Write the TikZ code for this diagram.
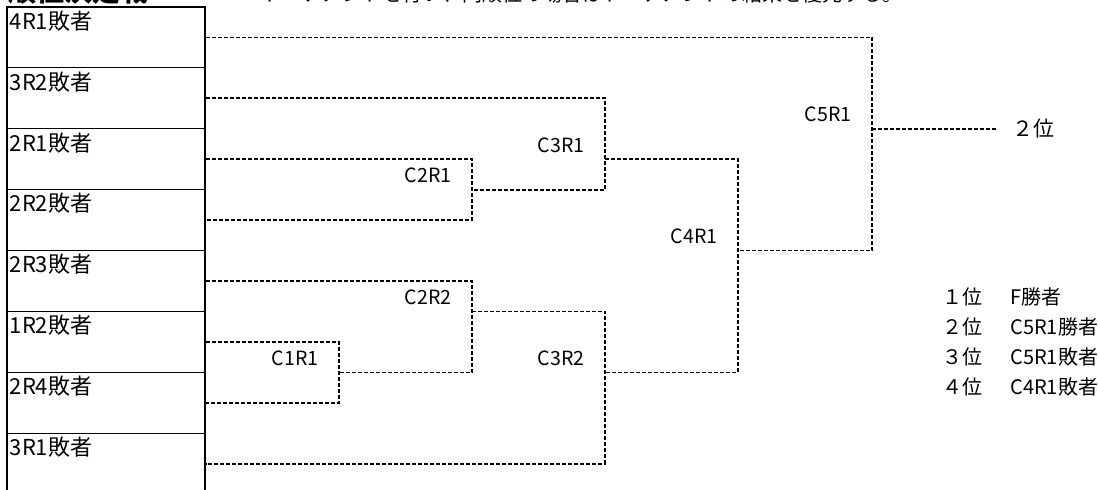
\documentclass[tikz,border=0pt]{standalone}
\usepackage{fontspec}
\setmainfont{Noto Sans CJK JP}
\tikzset{
  loserbox/.style={draw, line width=0.6pt, minimum width=99pt, minimum height=30.45pt, inner sep=0pt},
  boxtext/.style={anchor=north west, inner sep=0pt, xshift=1.5pt, yshift=-2pt, font=\fontsize{11}{13}\selectfont},
  bracket/.style={line width=0.85pt, dash pattern=on 2pt off 1pt},
  matchtext/.style={anchor=base east, inner sep=0pt, font=\fontsize{9.8}{11}\selectfont},
  ranktext/.style={anchor=base west, inner sep=0pt, font=\fontsize{10}{12}\selectfont}
}
\begin{document}
\begin{tikzpicture}[x=0.5pt, y=-0.5pt]
                    \useasboundingbox (0,0) rectangle (1098,490);
                    \clip (0,0) rectangle (1098,490);
                    % heading, cut off at the top
                    \node[anchor=base west, inner sep=0pt, font=\fontsize{14}{16}\selectfont\bfseries] (title) at (8,1.5) {順位決定戦};
                    \node[anchor=base west, inner sep=0pt, font=\fontsize{10}{12}\selectfont] (note) at (262,1.5) {トーナメントを行い、同順位の場合はトーナメントの結果を優先する。};
                    % losers
                    \node[loserbox, label={[boxtext]north west:4R1敗者}] (b1) at (106,37.45) {};
                    \node[loserbox, label={[boxtext]north west:3R2敗者}] (b2) at (106,98.35) {};
                    \node[loserbox, label={[boxtext]north west:2R1敗者}] (b3) at (106,159.25) {};
                    \node[loserbox, label={[boxtext]north west:2R2敗者}] (b4) at (106,220.15) {};
                    \node[loserbox, label={[boxtext]north west:2R3敗者}] (b5) at (106,281.05) {};
                    \node[loserbox, label={[boxtext]north west:1R2敗者}] (b6) at (106,341.95) {};
                    \node[loserbox, label={[boxtext]north west:2R4敗者}] (b7) at (106,402.85) {};
                    \node[loserbox, label={[boxtext]north west:3R1敗者}] (b8) at (106,463.75) {};
                    % match points
                    \coordinate (c2r1) at (472,189.7);
                    \coordinate (c3r1) at (605,159.25);
                    \coordinate (c1r1) at (339,372.4);
                    \coordinate (c2r2) at (472,311.5);
                    \coordinate (c3r2) at (605,372.4);
                    \coordinate (c4r1) at (738,250.6);
                    \coordinate (c5r1) at (872,128.8);
                    \draw[bracket] (b3.east) -| (c2r1) |- (b4.east);
                    \draw[bracket] (b2.east) -| (c3r1) |- (c2r1);
                    \draw[bracket] (b6.east) -| (c1r1) |- (b7.east);
                    \draw[bracket] (b5.east) -| (c2r2) |- (c1r1);
                    \draw[bracket] (c2r2) -| (c3r2) |- (b8.east);
                    \draw[bracket] (c3r1) -| (c4r1) |- (c3r2);
                    \draw[bracket] (b1.east) -| (c5r1) |- (c4r1);
                    \node[anchor=west, inner ysep=0pt, inner xsep=7pt, font=\fontsize{10.5}{12}\selectfont] (second) at (998,128.8) {２位};
                    \draw[bracket] (c5r1) -- (second.west);
                    \node[matchtext] (l-c2r1) at ([xshift=-10pt,yshift=3.5pt]c2r1) {C2R1};
                    \node[matchtext] (l-c3r1) at ([xshift=-10pt,yshift=3.5pt]c3r1) {C3R1};
                    \node[matchtext] (l-c1r1) at ([xshift=-10pt,yshift=3.5pt]c1r1) {C1R1};
                    \node[matchtext] (l-c2r2) at ([xshift=-10pt,yshift=3.5pt]c2r2) {C2R2};
                    \node[matchtext] (l-c3r2) at ([xshift=-10pt,yshift=3.5pt]c3r2) {C3R2};
                    \node[matchtext] (l-c4r1) at ([xshift=-10pt,yshift=3.5pt]c4r1) {C4R1};
                    \node[matchtext] (l-c5r1) at ([xshift=-10pt,yshift=3.5pt]c5r1) {C5R1};
                    % final ranking
                    \node[ranktext] (rk1) at (942,304.5) {１位};
                    \node[ranktext] (nm1) at (1010,304.5) {F勝者};
                    \node[ranktext] (rk2) at (942,334.5) {２位};
                    \node[ranktext] (nm2) at (1010,334.5) {C5R1勝者};
                    \node[ranktext] (rk3) at (942,364.5) {３位};
                    \node[ranktext] (nm3) at (1010,364.5) {C5R1敗者};
                    \node[ranktext] (rk4) at (942,394.5) {４位};
                    \node[ranktext] (nm4) at (1010,394.5) {C4R1敗者};
                  \end{tikzpicture}
\end{document}
